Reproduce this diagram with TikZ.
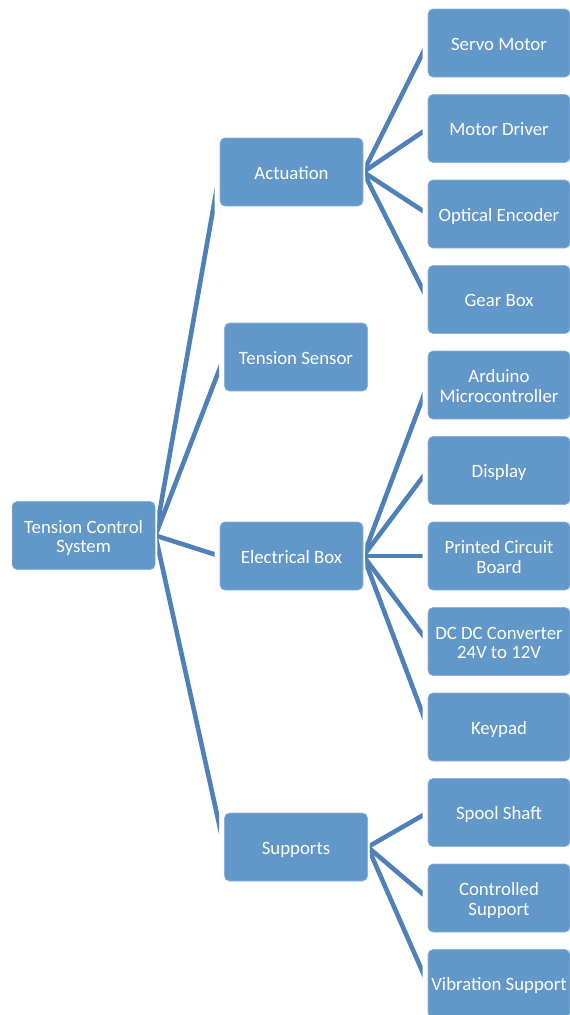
\documentclass[tikz,border=0pt]{standalone}
\usepackage{fontspec}
\setmainfont{Carlito}
\usetikzlibrary{calc}
\definecolor{boxblue}{HTML}{6297CA}
\definecolor{boxedge}{HTML}{8DB3DA}
\definecolor{linkblue}{HTML}{4F80B7}
\newcommand\bxt[1]{\raisebox{-3.6pt}[\height][\depth]{\begin{tabular}{@{}c@{}}#1\end{tabular}}}
\begin{document}
\begin{tikzpicture}[x=1pt,y=-1pt,
  box/.style={draw=boxedge, line width=0.6pt, fill=boxblue, rounded corners=5pt,
    minimum width=143pt, minimum height=68pt, inner sep=0pt,
    text=white, font=\fontsize{18.8}{19.3}\selectfont},
  leaf/.style={box, minimum width=142pt},
  link/.style={draw=linkblue, line width=4.6pt}]
\useasboundingbox (0,0) rectangle (570,1015);
% root
\node[box] (root) at (83.6,535.5) {\bxt{Tension Control\\System}};
% level 1
\node[box] (act) at (291.5,172) {\bxt{Actuation}};
\node[box] (ts)  at (296,357) {\bxt{Tension Sensor}};
\node[box] (eb)  at (291.5,556) {\bxt{Electrical Box}};
\node[box] (sup) at (296,847) {\bxt{Supports}};
% leaves
\node[leaf] (servo)   at (499,43)    {\bxt{Servo Motor}};
\node[leaf] (driver)  at (499,128.5) {\bxt{Motor Driver}};
\node[leaf] (encoder) at (499,214)   {\bxt{Optical Encoder}};
\node[leaf] (gear)    at (499,299.5) {\bxt{Gear Box}};
\node[leaf] (ard)     at (499,385)   {\bxt{Arduino\\Microcontroller}};
\node[leaf] (disp)    at (499,470.5) {\bxt{Display}};
\node[leaf] (pcb)     at (499,556)   {\bxt{Printed Circuit\\Board}};
\node[leaf] (dcdc)    at (499,641.5) {\bxt{DC DC Converter\\24V to 12V}};
\node[leaf] (key)     at (499,727)   {\bxt{Keypad}};
\node[leaf] (spool)   at (499,812.5) {\bxt{Spool Shaft}};
\node[leaf] (ctrl)    at (499,898)   {\bxt{Controlled\\Support}};
\node[leaf] (vib)     at (499,983.5) {\bxt{Vibration Support}};
% connectors
\foreach \p/\c in {root/act,root/ts,root/eb,root/sup,
                   act/servo,act/driver,act/encoder,act/gear,
                   eb/ard,eb/disp,eb/pcb,eb/dcdc,eb/key,
                   sup/spool,sup/ctrl,sup/vib}{
  \begin{scope}
    \clip ($(\p.east)+(2,-1200)$) rectangle ($(\c.west)+(-5,1200)$);
    \draw[link] (\p.east) -- (\c.west);
  \end{scope}
}
\end{tikzpicture}
\end{document}
